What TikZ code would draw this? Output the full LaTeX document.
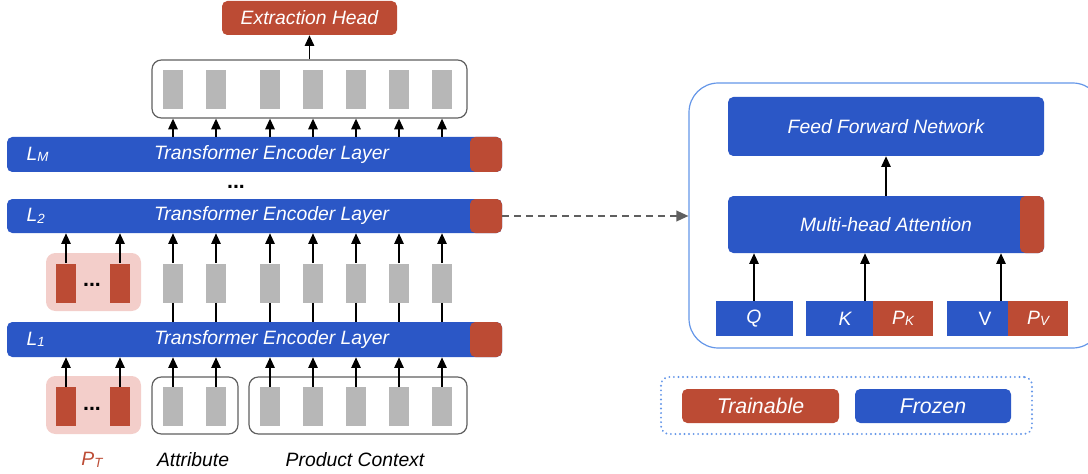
\documentclass[tikz,border=0pt]{standalone}
\usepackage{fontspec}
\setmainfont{Liberation Sans}
\usetikzlibrary{arrows.meta}
\usetikzlibrary{fit}

\definecolor{frozenblue}{RGB}{43,87,198}
\definecolor{trainred}{RGB}{188,75,52}
\definecolor{tokengrey}{RGB}{183,183,183}
\definecolor{promptpink}{RGB}{243,206,202}
\definecolor{lineblue}{RGB}{100,150,232}
\definecolor{framegrey}{RGB}{95,95,95}

% letter with a small lowered index, e.g. L_M, P_K
\newcommand{\idx}[2]{#1{\fontsize{10pt}{10pt}\selectfont\raisebox{-0.12em}{#2}}}

\tikzset{
  blk/.style={inner sep=0pt, rounded corners=4pt},
  layer/.style={blk, fill=frozenblue},
  trainbox/.style={blk, fill=trainred},
  token/.style={inner sep=0pt, fill=tokengrey, minimum width=15pt, minimum height=29.25pt},
  prompt/.style={inner sep=0pt, fill=trainred, minimum width=15pt, minimum height=29.25pt},
  group/.style={blk, draw=framegrey, line width=0.9pt, rounded corners=7pt},
  pinkgroup/.style={blk, fill=promptpink, rounded corners=7pt},
  lbl/.style={font=\fontsize{14.5pt}{16pt}\selectfont\itshape, text=white},
  captxt/.style={font=\fontsize{14.5pt}{16pt}\selectfont\itshape},
  dots/.style={font=\fontsize{16pt}{16pt}\selectfont\bfseries, inner sep=0pt},
  up/.style={-{Triangle[length=8pt,width=7pt]}, line width=1.3pt},
}

\begin{document}
\begin{tikzpicture}[x=0.75pt,y=0.75pt,yscale=-1,xscale=1]
\clip (0,0) rectangle (1088,474);

% ---------------- encoder stack ----------------
\node[layer, fit={(7,322) (502,357)}] (L1) {};
\node[layer, fit={(7,199) (502,233)}] (L2) {};
\node[layer, fit={(7,137) (502,172)}] (LM) {};
\node[trainbox, fit={(470,322) (502,357)}] (r1) {};
\node[trainbox, fit={(470,199) (502,233)}] (r2) {};
\node[trainbox, fit={(470,137) (502,172)}] (rM) {};

\node[lbl] at (271.5,339.5) {Transformer Encoder Layer};
\node[lbl] at (271.5,216) {Transformer Encoder Layer};
\node[lbl] at (271.5,154.5) {Transformer Encoder Layer};
\node[lbl, anchor=west] at (22,339.5) {\idx{L}{1}};
\node[lbl, anchor=west] at (22,216) {\idx{L}{2}};
\node[lbl, anchor=west] at (22,154.5) {\idx{L}{M}};

% dots between L2 and LM
\node[dots, anchor=base] at (236,188) {...};

% ---------------- input tokens ----------------
\node[pinkgroup, fit={(46,376) (141,434)}] (pin) {};
\node[group, fit={(152,377) (238,434)}] (attr) {};
\node[group, fit={(249,377) (467,434)}] (ctx) {};

\node[prompt] (p1) at (66,406.5) {};
\node[prompt] (p2) at (120,406.5) {};
\node[dots, anchor=base] at (92,410) {...};
\foreach \x [count=\i] in {173,216,270,313,356,399,442} {
  \node[token] (b\i) at (\x,406.5) {};
  \draw[up] (b\i.north) -- (b\i.north |- L1.south);
}
\draw[up] (p1.north) -- (p1.north |- L1.south);
\draw[up] (p2.north) -- (p2.north |- L1.south);

\node[captxt, text=trainred] at (92,460) {\idx{P}{T}};
\node[captxt] at (193,460) {Attribute};
\node[captxt] at (355,460) {Product Context};

% ---------------- hidden states between L1 and L2 ----------------
\node[pinkgroup, fit={(46,253) (141,311)}] (pmid) {};
\node[prompt] (q1) at (66,283) {};
\node[prompt] (q2) at (120,283) {};
\node[dots, anchor=base] at (92,286.5) {...};
\draw[up] (q1.north) -- (q1.north |- L2.south);
\draw[up] (q2.north) -- (q2.north |- L2.south);
\foreach \x [count=\i] in {173,216,270,313,356,399,442} {
  \node[token] (m\i) at (\x,283) {};
  \draw[line width=1.3pt] (m\i.south) -- (m\i.south |- L1.north);
  \draw[up] (m\i.north) -- (m\i.north |- L2.south);
}

% ---------------- outputs of LM ----------------
\node[group, fit={(152,60) (467,118)}] (out) {};
\foreach \x [count=\i] in {173,216,270,313,356,399,442} {
  \node[token] (o\i) at (\x,89.5) {};
  \draw[up] (o\i |- LM.north) -- (o\i |- out.south);
}
\node[trainbox, fit={(222,1) (397,35)}] (head) {};
\node[lbl] at (head.center) {Extraction Head};
\draw[up] (out.north) -- (head.south);

% ---------------- inside one encoder layer ----------------
\node[blk, draw=lineblue, line width=0.9pt, rounded corners=22pt, fit={(689,83) (1102,348)}] (zoomin) {};
\draw[line width=1.2pt, draw=framegrey, dash pattern=on 5pt off 4pt,
      -{Triangle[length=9pt,width=8pt]}] (r2.east) -- (r2.east -| zoomin.west);

\node[layer, fit={(728,97) (1044,156)}] (ffn) {};
\node[lbl] at (ffn.center) {Feed Forward Network};
\node[layer, fit={(728,196) (1044,253)}] (mha) {};
\node[trainbox, fit={(1020,196) (1044,253)}] (mhar) {};
\node[lbl] at (886,224.5) {Multi-head Attention};
\draw[up] (886,0 |- mha.north) -- (886,0 |- ffn.south);

\node[fill=frozenblue, inner sep=0pt, fit={(716,301) (793,336)}] (Q) {};
\node[fill=frozenblue, inner sep=0pt, fit={(806,301) (873,336)}] (K) {};
\node[fill=trainred, inner sep=0pt, fit={(873,301) (933,336)}] (PK) {};
\node[fill=frozenblue, inner sep=0pt, fit={(947,301) (1008,336)}] (V) {};
\node[fill=trainred, inner sep=0pt, fit={(1008,301) (1068,336)}] (PV) {};
\node[lbl] at (754,318.5) {Q};
\node[lbl] at (845,318.5) {K};
\node[lbl] at (903,318.5) {\idx{P}{K}};
\node[lbl, font=\fontsize{14.5pt}{16pt}\selectfont] at (985,318.5) {V};
\node[lbl] at (1038,318.5) {\idx{P}{V}};
\draw[up] (754,0 |- Q.north) -- (754,0 |- mha.south);
\draw[up] (865,0 |- K.north) -- (865,0 |- mha.south);
\draw[up] (1001,0 |- V.north) -- (1001,0 |- mha.south);

% ---------------- legend ----------------
\node[blk, draw=lineblue, line width=1.6pt, dash pattern=on 0.01pt off 3.4pt, line cap=round,
      rounded corners=6pt, fit={(661,377) (1032,434)}] (legend) {};
\node[trainbox, fit={(682,389) (839,423)}] (tr) {};
\node[layer, fit={(855,389) (1011,423)}] (fr) {};
\node[lbl, font=\fontsize{16pt}{18pt}\selectfont\itshape] at (tr.center) {Trainable};
\node[lbl, font=\fontsize{16pt}{18pt}\selectfont\itshape] at (fr.center) {Frozen};

\end{tikzpicture}
\end{document}
